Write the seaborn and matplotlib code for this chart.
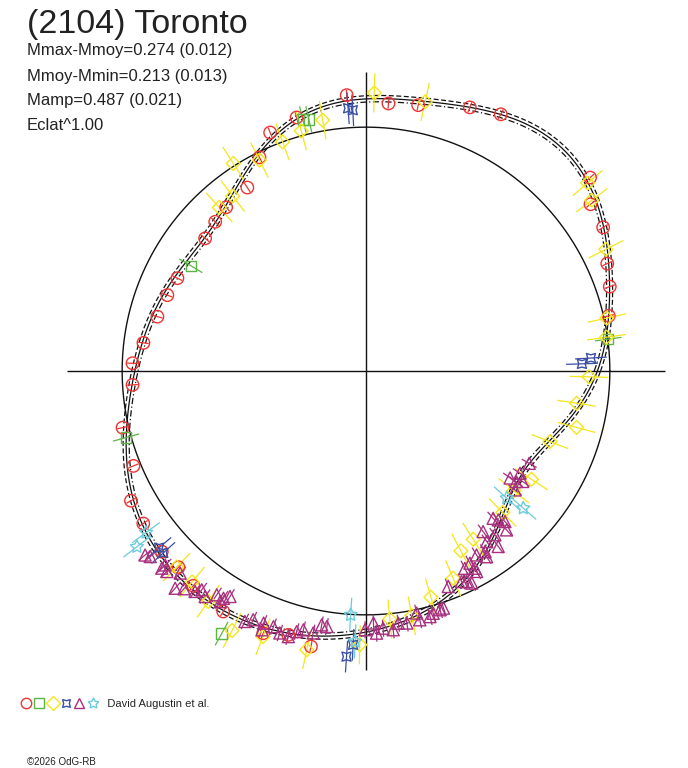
import numpy as np
import pandas as pd
import seaborn as sns
import matplotlib as mpl
mpl.use('Agg')
import matplotlib.pyplot as plt
from matplotlib.lines import Line2D

# phase angle (deg) and radius (reference circle = 1)
red_theta = [94.0, 85.2, 78.9, 68.5, 62.3, 105.3, 111.9, 116.5, 122.9, 130.5, 135.3, 140.5,
             153.8, 159.1, 165.4, 172.8, 178.1, 183.4, 193.1, 202.2, 208.9, 214.4, 221.5,
             226.3, 231.2, 239.3, 248.6, 253.6, 258.7, 40.8, 36.6, 31.2, 24.0, 19.1, 12.8]
red_r = [1.134, 1.101, 1.111, 1.162, 1.189, 1.078, 1.054, 0.979, 0.896, 0.883, 0.870, 0.855,
         0.862, 0.872, 0.884, 0.920, 0.958, 0.959, 1.025, 1.030, 1.101, 1.107, 1.118,
         1.113, 1.130, 1.147, 1.155, 1.128, 1.152, 1.214, 1.147, 1.137, 1.083, 1.058, 1.021]

green_theta = [104.1, 102.8, 149.0, 195.5, 241.2, 7.5]
green_r = [1.064, 1.058, 0.838, 1.021, 1.229, 1.002]

yellow_theta = [88.3, 77.6, 99.8, 105.1, 110.0, 122.6, 116.8, 127.3, 131.9, 40.3, 37.1, 26.9,
                12.4, 8.0, -1.5, -8.7, -15.0, -21.0, -33.2, -39.0, -46.0, -57.5, -62.2, -67.2,
                -74.0, -84.5, -79.4, 268.7, 258.0, 248.8, 242.7, 235.6, 226.0, 230.5]
yellow_r = [1.141, 1.130, 1.044, 1.020, 1.000, 1.010, 0.969, 0.902, 0.901, 1.192, 1.161, 1.103,
            1.011, 0.996, 0.915, 0.874, 0.894, 0.808, 0.811, 0.780, 0.807, 0.818, 0.834, 0.922,
            0.965, 1.022, 1.021, 1.123, 1.169, 1.168, 1.198, 1.145, 1.118, 1.121]

blue_theta = [93.9, 92.9, 1.9, 3.3, 220.5, 221.9, 266.1, 267.3]
blue_r = [1.080, 1.071, 0.886, 0.924, 1.116, 1.117, 1.174, 1.124]

magenta_theta = [-29.5, -33.6, -36.4, -35.2, -38.6, -47.3, -48.4, -48.5, -53.9, -51.8, -53.0,
                 -54.7, -56.6, -59.0, -57.0, -61.6, -61.1, -63.4, -61.1, -64.5, -65.6, -63.5,
                 -69.1, -71.9, -74.5, -72.8, -75.4, -77.8, -78.2, -80.8, -82.7, -84.0, -86.2,
                 -88.3, -90.2, -87.7, -36.6, -49.2, 261.3, 260.1, 258.6, 256.4, 255.1, 253.7,
                 251.8, 250.1, 247.9, 245.6, 244.2, 248.1, 237.9, 236.3, 237.7, 234.5, 233.1,
                 232.2, 230.1, 228.7, 227.4, 225.2, 224.0, 224.0, 220.7, 219.8, 238.9]
magenta_r = [0.769, 0.758, 0.764, 0.786, 0.782, 0.840, 0.817, 0.870, 0.815, 0.855, 0.901,
             0.857, 0.887, 0.880, 0.908, 0.896, 0.924, 0.905, 0.939, 0.957, 0.948, 0.972,
             0.946, 1.023, 1.031, 1.025, 1.041, 1.044, 1.014, 1.047, 1.043, 1.067, 1.057,
             1.034, 1.061, 1.076, 0.736, 0.798, 1.060, 1.057, 1.096, 1.092, 1.106, 1.135,
             1.131, 1.115, 1.116, 1.120, 1.141, 1.144, 1.100, 1.103, 1.119, 1.136, 1.122,
             1.144, 1.164, 1.186, 1.126, 1.159, 1.164, 1.145, 1.167, 1.179, 1.080]

cyan_theta = [216.3, 217.5, 266.4, 267.7, -42.1, -41.1]
cyan_r = [1.119, 1.184, 1.002, 1.110, 0.778, 0.856]

# fitted light curve
curve_theta = [0, 7, 13, 19, 24, 31, 36, 41, 54, 63, 77, 89, 98, 105, 108, 114, 121, 130, 142,
               154, 167, 180, 193, 203, 213, 222, 229, 236, 244, 253, 263, 271, 276, 288, 296,
               305, 316, 330, 345, 356]
curve_r = [0.960, 0.988, 1.017, 1.059, 1.080, 1.136, 1.170, 1.210, 1.209, 1.186, 1.129, 1.120,
           1.108, 1.078, 1.051, 1.004, 0.947, 0.904, 0.859, 0.865, 0.910, 0.955, 1.006, 1.050,
           1.115, 1.137, 1.138, 1.146, 1.138, 1.118, 1.098, 1.074, 1.040, 0.998, 0.940, 0.875,
           0.800, 0.779, 0.823, 0.933]

header = ["Mmax-Mmoy=0.274 (0.012)", "Mmoy-Mmin=0.213 (0.013)",
          "Mamp=0.487 (0.021)", "Eclat^1.00"]

series = [
    # theta, r, colour, marker, size, error
    (red_theta, red_r, '#ee3333', 'o', 80, 0.022),
    (green_theta, green_r, '#5cb544', 's', 55, 0.055),
    (yellow_theta, yellow_r, '#f4e61a', 'D', 50, 0.08),
    (blue_theta, blue_r, '#3a4fa6', (4, 1, 45), 85, 0.065),
    (magenta_theta, magenta_r, '#a8307e', '^', 75, 0.035),
    (cyan_theta, cyan_r, '#6ccbdc', (5, 1, 0), 95, 0.07),
]

sns.set_theme(style='white')
plt.rcParams['font.family'] = ['Liberation Sans', 'DejaVu Sans']

fig = plt.figure(figsize=(6.88, 7.68), dpi=100)
ax = fig.add_axes([49 / 688, 80 / 768, 634 / 688, 634 / 768], projection='polar')
ax.set_ylim(0, 1.3)
ax.grid(False)
ax.spines['polar'].set_visible(False)
ax.set_xticks([])
ax.set_yticks([])

# axes cross and reference circle
ax.vlines(np.deg2rad([0, 90, 180, 270]), 0, 1.225, colors='#111111', lw=1.0)
circ = np.linspace(0, 2 * np.pi, 721)
ax.plot(circ, np.ones_like(circ), color='#111111', lw=1.0)

# fourier fit of the sampled curve
th = np.deg2rad(curve_theta)
nharm = 7
A = [np.ones_like(th)]
for k in range(1, nharm + 1):
    A += [np.cos(k * th), np.sin(k * th)]
coef = np.linalg.lstsq(np.array(A).T, np.array(curve_r), rcond=None)[0]
B = [np.ones_like(circ)]
for k in range(1, nharm + 1):
    B += [np.cos(k * circ), np.sin(k * circ)]
fit = np.array(B).T @ coef
ax.plot(circ, fit, color='#111111', lw=0.9)
ax.plot(circ, fit + 0.013, color='#111111', lw=0.9, ls=(0, (4, 2)))
ax.plot(circ, fit - 0.013, color='#111111', lw=0.9, ls=(0, (5, 2, 1, 2)))

handles = []
for tdeg, rr, col, mk, sz, err in series:
    t = np.deg2rad(tdeg)
    rr = np.array(rr)
    ax.vlines(t, rr - err, rr + err, colors=col, lw=0.9, zorder=3)
    df = pd.DataFrame({'theta': t, 'r': rr})
    sns.scatterplot(data=df, x='theta', y='r', ax=ax, marker=mk, s=sz,
                    facecolor='none', edgecolor=col, linewidth=1.0, zorder=4,
                    clip_on=False)
    handles.append(Line2D([], [], ls='none', marker=mk, mfc='none', mec=col,
                          mew=1.0, ms=8 if mk == (4, 1, 45) or mk == (5, 1, 0) else 7.5))
ax.set_xlabel('')
ax.set_ylabel('')

fig.text(27 / 688, 1 - 24 / 768, "(2104) Toronto", fontsize=24.5, color='#222222',
         va='center', ha='left')
for i, line in enumerate(header):
    fig.text(27 / 688, 1 - (51 + 25 * i) / 768, line, fontsize=12, color='#222222',
             va='center', ha='left')

fig.legend(handles, ['', '', '', '', '', '   David Augustin et al.'], ncol=6,
           loc='center left', bbox_to_anchor=(21 / 688, 1 - 704 / 768),
           frameon=False, fontsize=8, handlelength=0.9, handletextpad=0.0,
           columnspacing=0.3, borderpad=0, borderaxespad=0)
fig.text(27 / 688, 1 - 762 / 768, "\u00a92026 OdG-RB", fontsize=7, color='#222222',
         va='center', ha='left')

fig.savefig('out.png', dpi=100)
